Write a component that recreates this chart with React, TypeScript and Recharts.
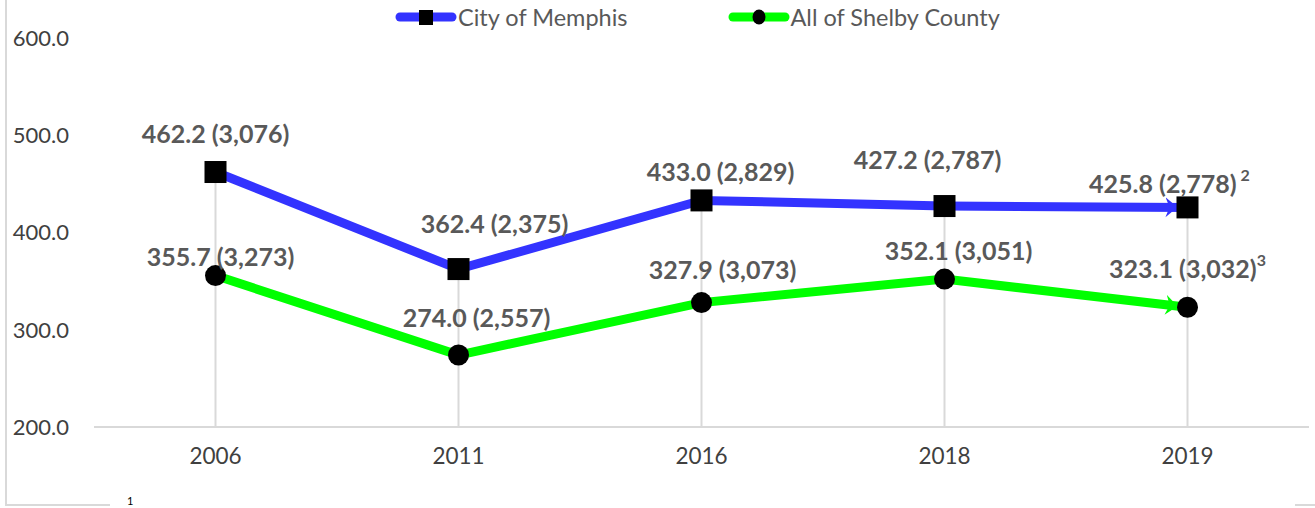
import React from "react";
import {
  LabelList,
  Line,
  LineChart,
  ReferenceLine,
  XAxis,
  YAxis,
} from "recharts";

const years = ["2006", "2011", "2016", "2018", "2019"];
const memphisRates = [462.2, 362.4, 433.0, 427.2, 425.8];
const memphisCounts = ["3,076", "2,375", "2,829", "2,787", "2,778"];
const memphisNotes = ["", "", "", "", "2"];
const shelbyRates = [355.7, 274.0, 327.9, 352.1, 323.1];
const shelbyCounts = ["3,273", "2,557", "3,073", "3,051", "3,032"];
const shelbyNotes = ["", "", "", "", "3"];
const yTicks = [200, 300, 400, 500, 600];

const seriesNames = ["City of Memphis", "All of Shelby County"];

// label nudges (px) relative to each point, like the hand-placed labels in the original
const memphisNudge = [
  [0, -39],
  [36, -46],
  [19, -29],
  [-17, -47],
  [-18, -24],
];
const shelbyNudge = [
  [5, -20],
  [18, -38],
  [21, -34],
  [14, -29],
  [0, -39],
];

const BLUE = "#3333ff";
const GREEN = "#00ff00";
const GRID = "#d9d9d9";
const LABEL = "#595959";
const TICK = "#404040";
const FONT = "Lato, 'Open Sans', sans-serif";

const chartData = years.map((year, i) => ({
  year,
  memphis: memphisRates[i],
  shelby: shelbyRates[i],
}));

const SquareDot = (props: any) => {
  const { cx, cy } = props;
  if (cx == null || cy == null) return null;
  return <rect x={cx - 11} y={cy - 11} width={22} height={22} fill="#000" />;
};

const CircleDot = (props: any) => {
  const { cx, cy } = props;
  if (cx == null || cy == null) return null;
  return <circle cx={cx} cy={cy} r={10.5} fill="#000" />;
};

const makeLabel =
  (rates: number[], counts: string[], notes: string[], nudge: number[][], spaced: boolean) =>
  (props: any) => {
    const { x, y, index } = props;
    const [dx, dy] = nudge[index];
    const note = notes[index];
    return (
      <text
        x={x + dx}
        y={y + dy}
        textAnchor="middle"
        dominantBaseline="central"
        fill={LABEL}
        fontSize={25}
        fontWeight={700}
        fontFamily={FONT}
      >
        {`${rates[index].toFixed(1)} (${counts[index]})`}
        {note ? (
          <tspan fontSize={16} dy={-9}>
            {spaced ? ` ${note}` : note}
          </tspan>
        ) : null}
      </text>
    );
  };

const LegendItem = ({ color, name, square, gap }: { color: string; name: string; square: boolean; gap: number }) => (
  <div style={{ display: "flex", alignItems: "center", marginLeft: gap }}>
    <svg width={62} height={20}>
      <line x1={5} y1={10} x2={57} y2={10} stroke={color} strokeWidth={9} strokeLinecap="round" />
      {square ? <rect x={24} y={3} width={14} height={15} fill="#000" /> : <ellipse cx={31} cy={10} rx={6.5} ry={7.5} fill="#000" />}
    </svg>
    <span style={{ marginLeft: 1, fontSize: 23.5, color: LABEL }}>{name}</span>
  </div>
);

export default function App() {
  return (
    <div
      style={{
        position: "absolute",
        left: 0,
        top: 0,
        width: 1315,
        height: 508,
        background: "#fff",
        overflow: "hidden",
        fontFamily: FONT,
      }}
    >
      {/* outer frame pieces */}
      <div style={{ position: "absolute", left: 5, top: 0, width: 2, height: 506, background: GRID }} />
      <div style={{ position: "absolute", left: 5, top: 504, width: 105, height: 2, background: GRID }} />
      <div style={{ position: "absolute", left: 1295, top: 504, width: 20, height: 2, background: GRID }} />
      <div style={{ position: "absolute", left: 127, top: 495, fontSize: 11, color: "#000", lineHeight: "11px" }}>1</div>

      <div style={{ position: "absolute", left: 395, top: 3, display: "flex", alignItems: "center", height: 28 }}>
        <LegendItem color={BLUE} name={seriesNames[0]} square gap={0} />
        <LegendItem color={GREEN} name={seriesNames[1]} square={false} gap={100} />
      </div>

      <LineChart
        width={1315}
        height={508}
        data={chartData}
        margin={{ top: 38, right: 6, bottom: 0, left: 0 }}
      >
        <defs>
          <marker id="arrowBlue" markerUnits="userSpaceOnUse" markerWidth={26} markerHeight={22} refX={22} refY={10} orient="auto">
            <path d="M0,0 L12,10 L0,20 L4,10 Z" fill={BLUE} />
          </marker>
          <marker id="arrowGreen" markerUnits="userSpaceOnUse" markerWidth={26} markerHeight={22} refX={22} refY={10} orient="auto">
            <path d="M0,0 L12,10 L0,20 L4,10 Z" fill={GREEN} />
          </marker>
        </defs>
        <XAxis
          dataKey="year"
          height={81}
          padding={{ left: 121.5, right: 121.5 }}
          axisLine={{ stroke: GRID, strokeWidth: 2 }}
          tickLine={false}
          tickSize={0}
          tickMargin={21}
          tick={{ fill: TICK, fontSize: 22.5, fontFamily: FONT }}
        />
        <YAxis
          width={94}
          domain={[200, 600]}
          ticks={yTicks}
          interval={0}
          axisLine={false}
          tickLine={false}
          tickSize={0}
          tickMargin={25}
          tickFormatter={(v: number) => v.toFixed(1)}
          tick={{ fill: TICK, fontSize: 22, fontFamily: FONT }}
        />
        {years.map((year, i) => (
          <ReferenceLine
            key={year}
            segment={[
              { x: year, y: 200 },
              { x: year, y: Math.max(memphisRates[i], shelbyRates[i]) },
            ]}
            stroke={GRID}
            strokeWidth={2}
            ifOverflow="visible"
          />
        ))}
        <Line
          dataKey="memphis"
          name={seriesNames[0]}
          stroke={BLUE}
          strokeWidth={9}
          dot={<SquareDot />}
          activeDot={false}
          markerEnd="url(#arrowBlue)"
          isAnimationActive={false}
        >
          <LabelList dataKey="memphis" content={makeLabel(memphisRates, memphisCounts, memphisNotes, memphisNudge, true)} />
        </Line>
        <Line
          dataKey="shelby"
          name={seriesNames[1]}
          stroke={GREEN}
          strokeWidth={9}
          dot={<CircleDot />}
          activeDot={false}
          markerEnd="url(#arrowGreen)"
          isAnimationActive={false}
        >
          <LabelList dataKey="shelby" content={makeLabel(shelbyRates, shelbyCounts, shelbyNotes, shelbyNudge, false)} />
        </Line>
      </LineChart>
    </div>
  );
}
